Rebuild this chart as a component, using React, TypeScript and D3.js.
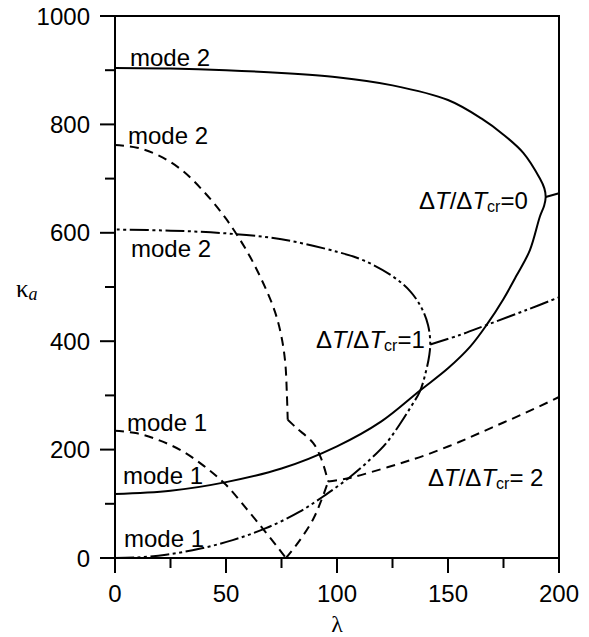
import React from 'react';
import * as d3 from 'd3';

type Pt = [number, number];

// ΔT/ΔTcr = 0 (solid): mode 1 up to the turning point, back as mode 2
const solidCurve: Pt[] = [
  [0, 118], [25, 124], [50, 140], [75, 165], [100, 206], [120, 252],
  [137.4, 309], [150, 350], [160, 390], [167.4, 430], [175, 478],
  [181, 522], [186.9, 568], [191.4, 630], [193.3, 650], [194, 666],
  [193.4, 682], [191.4, 700], [184, 747], [175, 781], [165, 811],
  [150, 845], [125, 872], [100, 887], [75, 895], [50, 900], [25, 903], [0, 904],
];
const solidBranch: Pt[] = [[194, 666], [200, 673]];

// ΔT/ΔTcr = 1 (dash-dot-dot)
const dashDotCurve: Pt[] = [
  [0, 0], [10, 1], [23, 6], [38, 17], [53, 33], [68, 55], [83, 85],
  [95, 117], [106, 150], [115, 182], [122, 211], [128, 245], [133, 277],
  [137.4, 308], [140, 343], [141.6, 375], [142, 398], [141, 430],
  [138, 462], [133, 492], [125, 520], [112, 549], [100, 565],
  [75, 588], [50, 599], [25, 604], [0, 606],
];
const dashDotBranch: Pt[] = [[142, 394], [155, 411], [167.4, 430], [185, 457], [200, 481]];

// ΔT/ΔTcr = 2 (dashed), drawn in pieces because of its kinks
const dashedMode2: Pt[] = [
  [0, 762], [10, 757], [20, 742], [30, 716], [40, 676], [50, 626],
  [60, 562], [67, 505], [72, 455], [75, 408], [76.7, 360], [77.4, 305], [77.8, 255],
];
const dashedJoin: Pt[] = [[77.8, 255], [82, 239], [89.3, 212], [93.1, 181], [96, 141]];
const dashedMode1: Pt[] = [
  [0, 235], [10, 230], [20, 217], [30, 198], [40, 170], [50, 135],
  [60, 87], [68, 47], [74, 16], [77, 0],
];
const dashedRise: Pt[] = [[77, 0], [83.3, 33], [89.3, 72], [93, 107], [96, 141]];
const dashedBranch: Pt[] = [
  [96, 141], [105, 147], [115, 158], [128, 174], [140, 190], [155, 214],
  [170, 241], [185, 268], [200, 297],
];

const xTicks = d3.range(0, 201, 25);
const yTicks = d3.range(0, 1001, 100);
const xLabels = [0, 50, 100, 150, 200];
const yLabels = [0, 200, 400, 600, 800, 1000];

const modeLabels: { text: string; x: number; y: number }[] = [
  { text: 'mode 2', x: 130, y: 66 },
  { text: 'mode 2', x: 128, y: 144 },
  { text: 'mode 2', x: 131, y: 257 },
  { text: 'mode 1', x: 127, y: 431 },
  { text: 'mode 1', x: 123, y: 484 },
  { text: 'mode 1', x: 124, y: 547 },
];

const ratioLabels: { value: string; x: number; y: number }[] = [
  { value: '=0', x: 419, y: 209 },
  { value: '=1', x: 316, y: 348 },
  { value: '= 2', x: 428, y: 486 },
];

export default function App() {
  const x = d3.scaleLinear().domain([0, 200]).range([115, 559]);
  const y = d3.scaleLinear().domain([0, 1000]).range([558, 16]);

  const smooth = d3.line<Pt>()
    .x(d => x(d[0]))
    .y(d => y(d[1]))
    .curve(d3.curveCatmullRom.alpha(0.5));

  const font = '"Liberation Sans", Arial, sans-serif';
  const dashed = '9 6';
  const dashDot = '19 3.5 3 3.5 3 3.5';

  return (
    <svg width={589} height={637} style={{ position: 'absolute', left: 0, top: 0, background: '#fff' }}
      fontFamily={font}>
      {/* frame */}
      <rect x={x(0)} y={y(1000)} width={x(200) - x(0)} height={y(0) - y(1000)}
        fill="none" stroke="#000" strokeWidth={2} />

      {/* ticks */}
      {xTicks.map(t => (
        <line key={'xt' + t} x1={x(t)} x2={x(t)} y1={y(0)} y2={y(0) + (t % 50 === 0 ? 15 : 10)}
          stroke="#000" strokeWidth={2} />
      ))}
      {yTicks.map(t => (
        <line key={'yt' + t} x1={x(0)} x2={x(0) - (t % 200 === 0 ? 15 : 10)} y1={y(t)} y2={y(t)}
          stroke="#000" strokeWidth={2} />
      ))}
      {xLabels.map(t => (
        <text key={'xl' + t} x={x(t)} y={602} fontSize={24} textAnchor="middle">{t}</text>
      ))}
      {yLabels.map(t => (
        <text key={'yl' + t} x={90} y={y(t) + 8.5} fontSize={24} textAnchor="end">{t}</text>
      ))}

      {/* axis titles */}
      <text x={337} y={632} fontSize={24} textAnchor="middle" fontFamily='"Liberation Serif", serif'>λ</text>
      <text x={16} y={297} fontSize={25} fontFamily='"Liberation Serif", serif'>
        κ<tspan fontSize={18} fontStyle="italic" dy={3}>a</tspan>
      </text>

      {/* curves */}
      <g fill="none" stroke="#000" strokeWidth={2}>
        <path d={smooth(solidCurve) ?? ''} />
        <path d={smooth(solidBranch) ?? ''} />
        <path d={smooth(dashDotCurve) ?? ''} strokeDasharray={dashDot} />
        <path d={smooth(dashDotBranch) ?? ''} strokeDasharray={dashDot} />
        <path d={smooth(dashedMode2) ?? ''} strokeDasharray={dashed} />
        <path d={smooth(dashedJoin) ?? ''} strokeDasharray={dashed} />
        <path d={smooth(dashedMode1) ?? ''} strokeDasharray={dashed} />
        <path d={smooth(dashedRise) ?? ''} strokeDasharray={dashed} />
        <path d={smooth(dashedBranch) ?? ''} strokeDasharray={dashed} />
      </g>

      {/* labels */}
      {modeLabels.map((m, i) => (
        <text key={'m' + i} x={m.x} y={m.y} fontSize={24}>{m.text}</text>
      ))}
      {ratioLabels.map((r, i) => (
        <text key={'r' + i} x={r.x} y={r.y} fontSize={24}>
          Δ<tspan fontStyle="italic">T</tspan>/Δ<tspan fontStyle="italic">T</tspan>
          <tspan fontSize={16} dy={3}>cr</tspan>
          <tspan dy={-3}>{r.value}</tspan>
        </text>
      ))}
    </svg>
  );
}
